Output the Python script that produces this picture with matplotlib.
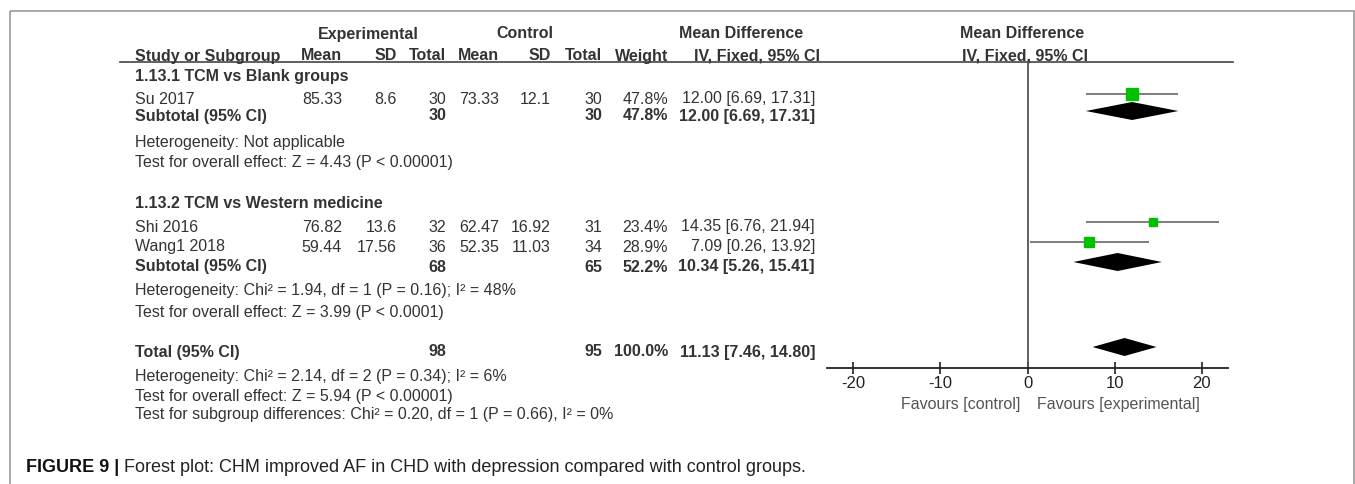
import numpy as np
import matplotlib
matplotlib.use("Agg")
import matplotlib.pyplot as plt
from matplotlib.patches import Rectangle

plt.rcParams['font.family'] = ['Liberation Sans', 'DejaVu Sans']

# ---- data ----
studies = ['Su 2017', 'Shi 2016', 'Wang1 2018']
study_group = [0, 1, 1]
exp_mean = [85.33, 76.82, 59.44]
exp_sd = [8.6, 13.6, 17.56]
exp_n = [30, 32, 36]
ctl_mean = [73.33, 62.47, 52.35]
ctl_sd = [12.1, 16.92, 11.03]
ctl_n = [30, 31, 34]
weights = [47.8, 23.4, 28.9]
md = [12.00, 14.35, 7.09]
ci_lo = [6.69, 6.76, 0.26]
ci_hi = [17.31, 21.94, 13.92]

subgroups = ['1.13.1 TCM vs Blank groups', '1.13.2 TCM vs Western medicine']
sub_exp_n = [30, 68]
sub_ctl_n = [30, 65]
sub_weight = [47.8, 52.2]
sub_md = [12.00, 10.34]
sub_lo = [6.69, 5.26]
sub_hi = [17.31, 15.41]
sub_het = ['Heterogeneity: Not applicable',
           'Heterogeneity: Chi\u00b2 = 1.94, df = 1 (P = 0.16); I\u00b2 = 48%']
sub_test = ['Test for overall effect: Z = 4.43 (P < 0.00001)',
            'Test for overall effect: Z = 3.99 (P < 0.0001)']

total_exp_n = 98
total_ctl_n = 95
total_weight = 100.0
total_md = 11.13
total_lo = 7.46
total_hi = 14.80
total_notes = ['Heterogeneity: Chi\u00b2 = 2.14, df = 2 (P = 0.34); I\u00b2 = 6%',
               'Test for overall effect: Z = 5.94 (P < 0.00001)',
               'Test for subgroup differences: Chi\u00b2 = 0.20, df = 1 (P = 0.66), I\u00b2 = 0%']

x_ticks = [-20, -10, 0, 10, 20]
favours = ['Favours [control]', 'Favours [experimental]']
caption_bold = 'FIGURE 9 |'
caption = 'Forest plot: CHM improved AF in CHD with depression compared with control groups.'

# ---- layout (pixel rows, measured from top) ----
W, H = 1355, 484
sub_title_y = [76, 203]
study_y = [98, 226, 246]
sub_y = [115, 266]
sub_het_y = [142, 290]
sub_test_y = [162, 311]
total_y = 351
total_notes_y = [375, 395, 414]
mark_shift = -4      # marks sit slightly above the text centre
txt = '#333333'
fs = 11.5

fig = plt.figure(figsize=(W / 100, H / 100), dpi=100)
tab = fig.add_axes([0, 0, 1, 1])
tab.set_xlim(0, W)
tab.set_ylim(H, 0)
tab.axis('off')

# outer panel frame
tab.add_patch(Rectangle((9.5, 10.5), 1344.5, 500, fill=False, ec='#9a9a9a', lw=1.2))


def put(x, y, s, ha='left', bold=False, color=txt, size=fs):
    return tab.text(x, y + 5.5, s, ha=ha, va='baseline', fontsize=size, color=color,
                    fontweight='bold' if bold else 'normal')


# column anchors (right edges)
cx = dict(label=135, em=342, esd=397, en=446, cm=499, csd=551, cn=602, w=668, ci=815)

# headers
put(368, 33, 'Experimental', ha='center', bold=True)
put(525, 33, 'Control', ha='center', bold=True)
put(741, 33, 'Mean Difference', ha='center', bold=True)
put(1022, 33, 'Mean Difference', ha='center', bold=True)
put(cx['label'], 55, 'Study or Subgroup', bold=True)
for key, s in [('em', 'Mean'), ('esd', 'SD'), ('en', 'Total'),
               ('cm', 'Mean'), ('csd', 'SD'), ('cn', 'Total'), ('w', 'Weight')]:
    put(cx[key], 55, s, ha='right', bold=True)
put(757, 55, 'IV, Fixed, 95% CI', ha='center', bold=True)
put(1025, 55, 'IV, Fixed, 95% CI', ha='center', bold=True)
tab.plot([120, 1233], [61.5, 61.5], color='#444444', lw=1.2)


def ci_text(m, lo, hi):
    return f'{m:.2f} [{lo:.2f}, {hi:.2f}]'


# study rows
for i, name in enumerate(studies):
    y = study_y[i]
    put(cx['label'], y, name)
    put(cx['em'], y, f'{exp_mean[i]:g}', ha='right')
    put(cx['esd'], y, f'{exp_sd[i]:g}', ha='right')
    put(cx['en'], y, f'{exp_n[i]}', ha='right')
    put(cx['cm'], y, f'{ctl_mean[i]:g}', ha='right')
    put(cx['csd'], y, f'{ctl_sd[i]:g}', ha='right')
    put(cx['cn'], y, f'{ctl_n[i]}', ha='right')
    put(cx['w'], y, f'{weights[i]:.1f}%', ha='right')
    put(cx['ci'], y, ci_text(md[i], ci_lo[i], ci_hi[i]), ha='right')

# subgroup rows
for g, title in enumerate(subgroups):
    put(cx['label'], sub_title_y[g], title, bold=True)
    y = sub_y[g]
    put(cx['label'], y, 'Subtotal (95% CI)', bold=True)
    put(cx['en'], y, f'{sub_exp_n[g]}', ha='right', bold=True)
    put(cx['cn'], y, f'{sub_ctl_n[g]}', ha='right', bold=True)
    put(cx['w'], y, f'{sub_weight[g]:.1f}%', ha='right', bold=True)
    put(cx['ci'], y, ci_text(sub_md[g], sub_lo[g], sub_hi[g]), ha='right', bold=True)
    put(cx['label'], sub_het_y[g], sub_het[g])
    put(cx['label'], sub_test_y[g], sub_test[g])

# total rows
put(cx['label'], total_y, 'Total (95% CI)', bold=True)
put(cx['en'], total_y, f'{total_exp_n}', ha='right', bold=True)
put(cx['cn'], total_y, f'{total_ctl_n}', ha='right', bold=True)
put(cx['w'], total_y, f'{total_weight:.1f}%', ha='right', bold=True)
put(cx['ci'], total_y, ci_text(total_md, total_lo, total_hi), ha='right', bold=True)
for s, y in zip(total_notes, total_notes_y):
    put(cx['label'], y, s)

# caption
cap1 = tab.text(26, 472, caption_bold, fontsize=13, fontweight='bold', color='#111111', va='baseline')
fig.canvas.draw()
bb = cap1.get_window_extent(fig.canvas.get_renderer())
tab.text(bb.x1 + 5, 472, caption, fontsize=13, color='#222222', va='baseline')

# ---- forest panel ----
ax_top, ax_bot, ax_left, ax_right = 61.5, 368, 827, 1228
ax = fig.add_axes([ax_left / W, (H - ax_bot) / H, (ax_right - ax_left) / W, (ax_bot - ax_top) / H])
ax.patch.set_visible(False)
ax.set_xlim(-23, 23)
ax.set_ylim(ax_bot, ax_top)
for side in ['top', 'right', 'left']:
    ax.spines[side].set_visible(False)
ax.spines['bottom'].set_color('#222222')
ax.spines['bottom'].set_linewidth(1.3)
ax.set_yticks([])
ax.set_xticks(x_ticks)
ax.set_xticklabels([str(t) for t in x_ticks])
ax.tick_params(axis='x', direction='inout', length=9, width=1.2, color='#222222',
               labelsize=12, labelcolor='#222222', pad=1)
ax.axvline(0, color='#555555', lw=1.3)

for i in range(len(studies)):
    y = study_y[i] + mark_shift
    ax.plot([ci_lo[i], ci_hi[i]], [y, y], color='#666666', lw=1.2, solid_capstyle='butt')
    side_px = 1.8 * np.sqrt(weights[i])
    ax.plot(md[i], y, marker='s', ms=side_px * 0.72, color='#00c000', mec='#00c000', lw=0)


def diamond(m, lo, hi, y, h=9):
    ax.fill([lo, m, hi, m], [y, y - h, y, y + h], color='black', lw=0)


for g in range(len(subgroups)):
    diamond(sub_md[g], sub_lo[g], sub_hi[g], sub_y[g] + mark_shift)
diamond(total_md, total_lo, total_hi, total_y + mark_shift)

put(1020, 404, favours[0], ha='right', color='#555555', size=11.5)
put(1037, 404, favours[1], color='#555555', size=11.5)

fig.savefig('out.png', dpi=100)
